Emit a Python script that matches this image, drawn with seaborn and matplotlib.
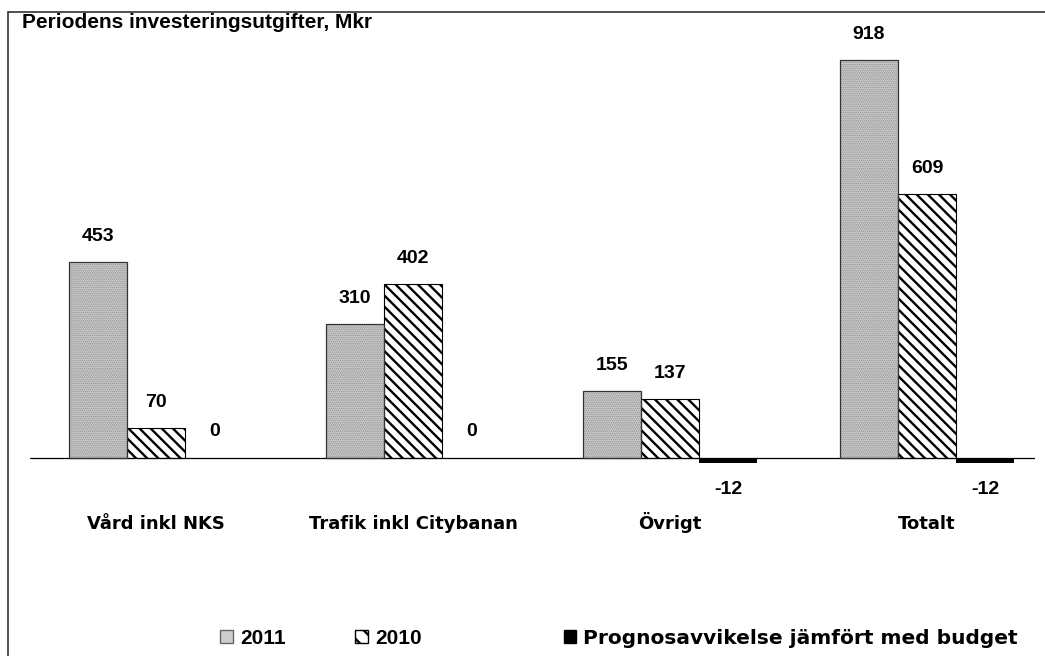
import pandas as pd
import matplotlib.pyplot as plt
import seaborn as sns
from matplotlib.patches import Patch, Rectangle
from matplotlib.lines import Line2D

sns.set_theme(style='white')
plt.rcParams['font.family'] = ['Liberation Sans', 'DejaVu Sans']
plt.rcParams['text.color'] = 'black'
plt.rcParams['hatch.linewidth'] = 1.7

# Data
categories = ['Vård inkl NKS', 'Trafik inkl Citybanan', 'Övrigt', 'Totalt']
series = ['2011', '2010', 'Prognosavvikelse jämfört med budget']
v2011 = [453, 310, 155, 918]
v2010 = [70, 402, 137, 609]
avvik = [0, 0, -12, -12]

rows = []
for s, vals in zip(series, [v2011, v2010, avvik]):
    for c, v in zip(categories, vals):
        rows.append({'kategori': c, 'serie': s, 'varde': v})
df = pd.DataFrame(rows)

fig = plt.figure(figsize=(10.45, 6.56), dpi=100)
ax = fig.add_axes([30 / 1045, 1 - 490 / 656, 1035 / 1045 - 30 / 1045, 450 / 656])

face = {'2011': '#cdcdcd', '2010': 'white', series[2]: 'black'}
ax = sns.barplot(data=df, x='kategori', y='varde', hue='serie', order=categories,
                 hue_order=series, width=0.68, palette=face, legend=False, ax=ax)

# style each series' bars
for i, cont in enumerate(ax.containers):
    for bar in cont:
        bar.set_edgecolor('black')
        bar.set_linewidth(0.8)
        if i == 0:
            bar.set_hatch('........')
            bar.set_edgecolor('#8c8c8c')
            bar.set_linewidth(0)
            if hasattr(bar, 'set_hatch_linewidth'):
                bar.set_hatch_linewidth(0.7)
            ax.add_patch(Rectangle(bar.get_xy(), bar.get_width(), bar.get_height(),
                                   fill=False, edgecolor='#333333', linewidth=0.9, zorder=3))
        elif i == 1:
            bar.set_hatch('\\\\\\')
        else:
            bar.set_linewidth(0)

# value labels
for i, cont in enumerate(ax.containers):
    vals = [v2011, v2010, avvik][i]
    for bar, v in zip(cont, vals):
        x = bar.get_x() + bar.get_width() / 2
        if v < 0:
            ax.text(x, v - 41, str(v), ha='center', va='top', fontsize=14, fontweight='bold')
        elif v == 0:
            ax.text(x, 41, str(v), ha='center', va='bottom', fontsize=14, fontweight='bold')
        else:
            ax.text(x, v + 38, str(v), ha='center', va='bottom', fontsize=14, fontweight='bold')

ax.axhline(0, color='black', linewidth=0.9)
ax.set_ylim(-74, 964)
ax.set_xlim(-0.49, 3.42)
ax.set_yticks([])
ax.set_xticks([])
ax.set_xlabel('')
ax.set_ylabel('')
for sp in ax.spines.values():
    sp.set_visible(False)

# category labels below the axis, on a common baseline
for k, c in enumerate(categories):
    ax.text(k, -0.087, c, transform=ax.get_xaxis_transform(), ha='center', va='baseline',
            fontsize=13, fontweight='bold', family='DejaVu Sans', clip_on=False)

fig.text(22 / 1045, 1 - 22 / 656, 'Periodens investeringsutgifter, Mkr', fontsize=15,
         fontweight='bold', va='center', ha='left')

# frame lines (top and left only)
fig.add_artist(Line2D([8 / 1045, 1], [1 - 12 / 656] * 2, color='#333333', linewidth=1.2))
fig.add_artist(Line2D([8 / 1045] * 2, [0, 1 - 12 / 656], color='#333333', linewidth=1.2))

handles = [
    Patch(facecolor='#cdcdcd', edgecolor='#666666', label='2011'),
    Patch(facecolor='white', edgecolor='black', hatch='\\\\', label='2010'),
    Patch(facecolor='black', edgecolor='black', label=series[2]),
]
legend_x = [220, 355, 564]
legend_fonts = ['Liberation Sans', 'Liberation Sans', 'DejaVu Sans']
legend_sizes = [15, 15, 14.5]
for h, lx, fam, fs in zip(handles, legend_x, legend_fonts, legend_sizes):
    leg = fig.legend(handles=[h], loc='center left', bbox_to_anchor=(lx / 1045, 1 - 638 / 656),
                     frameon=False, handlelength=0.6, handleheight=0.6, handletextpad=0.35,
                     borderaxespad=0, borderpad=0,
                     prop={'weight': 'bold', 'size': fs, 'family': fam})

fig.savefig('out.png', dpi=100)
